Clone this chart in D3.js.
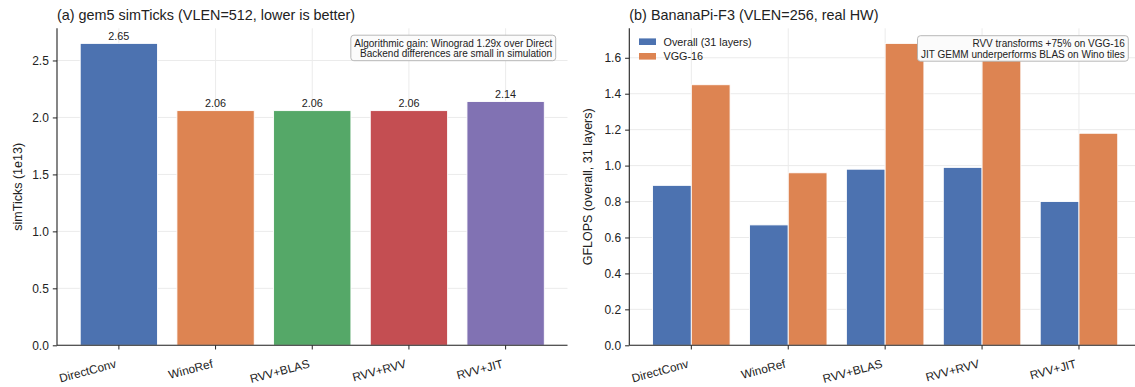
<!DOCTYPE html>
<html>
<head>
<meta charset="utf-8">
<script src="https://cdn.jsdelivr.net/npm/d3@7"></script>
<style>
  html, body { margin: 0; padding: 0; background: #fff; }
  svg { display: block; font-family: "Liberation Sans", Arial, Helvetica, sans-serif; }
</style>
</head>
<body>
<svg id="chart" width="1135" height="387"></svg>
<script>
// Implementations compared in both panels
const categories = ["DirectConv", "WinoRef", "RVV+BLAS", "RVV+RVV", "RVV+JIT"];

// (a) gem5 simulated ticks, in units of 1e13
const simTicks = [2.65, 2.06, 2.06, 2.06, 2.14];
const simTickLabels = ["2.65", "2.06", "2.06", "2.06", "2.14"];
const simColors = ["#4c72b0", "#dd8452", "#55a868", "#c44e52", "#8172b3"];
const leftYTicks = [0.0, 0.5, 1.0, 1.5, 2.0, 2.5];

// (b) BananaPi-F3 measured GFLOPS
const seriesNames = ["Overall (31 layers)", "VGG-16"];
const overallGflops = [0.89, 0.67, 0.98, 0.99, 0.80];
const vggGflops = [1.45, 0.96, 1.68, 1.68, 1.18];
const seriesColors = ["#4c72b0", "#dd8452"];
const rightYTicks = [0.0, 0.2, 0.4, 0.6, 0.8, 1.0, 1.2, 1.4, 1.6];

// Annotation notes
const leftNote = ["Algorithmic gain: Winograd 1.29x over Direct", "Backend differences are small in simulation"];
const rightNote = ["RVV transforms +75% on VGG-16", "JIT GEMM underperforms BLAS on Wino tiles"];

const svg = d3.select("#chart");
const gridColor = "#ebebeb";
const inkColor = "#222";
const fmt = d3.format(".1f");

const plotTop = 28.3, plotBottom = 345.3;

function panel(opts) {
  const g = svg.append("g");
  const x = d3.scaleBand().domain(categories).range([opts.x0, opts.x1])
    .paddingInner(0.2).paddingOuter(0.24);
  const y = d3.scaleLinear().domain([0, opts.ymax * 1.05]).range([plotBottom, plotTop]);

  // grid
  const grid = g.append("g");
  grid.selectAll("line.gy").data(opts.yTicks).join("line")
    .attr("x1", opts.x0).attr("x2", opts.x1)
    .attr("y1", d => y(d)).attr("y2", d => y(d))
    .attr("stroke", gridColor).attr("stroke-width", 1);
  grid.selectAll("line.gx").data(categories).join("line")
    .attr("x1", d => x(d) + x.bandwidth() / 2).attr("x2", d => x(d) + x.bandwidth() / 2)
    .attr("y1", plotTop).attr("y2", plotBottom)
    .attr("stroke", gridColor).attr("stroke-width", 1);

  return { g, x, y };
}

function axes(p, opts) {
  const { g, x, y } = p;
  const yAxis = g.append("g").attr("transform", `translate(${opts.x0},0)`)
    .call(d3.axisLeft(y).tickValues(opts.yTicks).tickFormat(fmt).tickSize(4.2).tickPadding(4));
  yAxis.select(".domain").attr("d", `M0,${plotTop}V${plotBottom}`).attr("stroke", inkColor).attr("stroke-width", 1.1);
  yAxis.selectAll(".tick line").attr("stroke", inkColor).attr("stroke-width", 1);
  yAxis.selectAll(".tick text").attr("font-size", 12).attr("fill", inkColor)
    .attr("font-family", "Liberation Sans, Arial, sans-serif");

  const xAxis = g.append("g").attr("transform", `translate(0,${plotBottom})`)
    .call(d3.axisBottom(x).tickSize(4.2).tickSizeOuter(0));
  xAxis.select(".domain").attr("d", `M${opts.x0},0H${opts.x1}`).attr("stroke", inkColor).attr("stroke-width", 1.1);
  xAxis.selectAll(".tick line").attr("stroke", inkColor).attr("stroke-width", 1);
  xAxis.selectAll(".tick text")
    .attr("font-size", 11.8).attr("fill", inkColor)
    .attr("font-family", "Liberation Sans, Arial, sans-serif")
    .attr("text-anchor", "end").attr("dy", null)
    .attr("x", -2).attr("y", 22)
    .attr("transform", "rotate(-15,-2,22)");

  // title
  g.append("text").attr("x", opts.x0).attr("y", 20)
    .attr("font-size", 14.4).attr("fill", inkColor).text(opts.title);

  // y label
  g.append("text")
    .attr("transform", `translate(${opts.ylabelX},${(plotTop + plotBottom) / 2}) rotate(-90)`)
    .attr("text-anchor", "middle").attr("font-size", 12.5).attr("fill", inkColor)
    .text(opts.ylabel);
}

function note(g, lines, right, top) {
  const box = g.append("g");
  const rect = box.append("rect");
  const texts = box.selectAll("text").data(lines).join("text")
    .attr("x", right - 3.5).attr("y", (d, i) => top + 11.6 + i * 10.2)
    .attr("text-anchor", "end").attr("font-size", 10).attr("fill", inkColor)
    .text(d => d);
  let w = 0;
  texts.each(function () { w = Math.max(w, this.getComputedTextLength()); });
  rect.attr("x", right - w - 7).attr("y", top).attr("width", w + 7).attr("height", 25.5)
    .attr("rx", 3).attr("ry", 3)
    .attr("fill", "#fbfbfb").attr("stroke", "#b0b0b0").attr("stroke-width", 0.9);
}

// ---- panel (a)
const leftOpts = {
  x0: 57, x1: 567.5, ymax: d3.max(simTicks), yTicks: leftYTicks,
  title: "(a) gem5 simTicks (VLEN=512, lower is better)",
  ylabel: "simTicks (1e13)", ylabelX: 21.5
};
const pa = panel(leftOpts);
pa.g.append("g").selectAll("rect").data(categories).join("rect")
  .attr("x", d => pa.x(d)).attr("width", pa.x.bandwidth())
  .attr("y", (d, i) => pa.y(simTicks[i]))
  .attr("height", (d, i) => pa.y(0) - pa.y(simTicks[i]))
  .attr("fill", (d, i) => simColors[i])
  .attr("stroke", "#fff").attr("stroke-width", 0.9);
pa.g.append("g").selectAll("text").data(categories).join("text")
  .attr("x", d => pa.x(d) + pa.x.bandwidth() / 2)
  .attr("y", (d, i) => pa.y(simTicks[i]) - 3.6)
  .attr("text-anchor", "middle").attr("font-size", 10.8).attr("fill", inkColor)
  .text((d, i) => simTickLabels[i]);
axes(pa, leftOpts);
note(pa.g, leftNote, 555.7, 35.2);

// ---- panel (b)
const rightOpts = {
  x0: 629.3, x1: 1141, ymax: d3.max(vggGflops.concat(overallGflops)), yTicks: rightYTicks,
  title: "(b) BananaPi-F3 (VLEN=256, real HW)",
  ylabel: "GFLOPS (overall, 31 layers)", ylabelX: 592
};
const pb = panel(rightOpts);
const sub = d3.scaleBand().domain(seriesNames).range([0, pb.x.bandwidth()]);
const seriesValues = [overallGflops, vggGflops];
seriesNames.forEach((s, si) => {
  pb.g.append("g").selectAll("rect").data(categories).join("rect")
    .attr("x", d => pb.x(d) + sub(s)).attr("width", sub.bandwidth())
    .attr("y", (d, i) => pb.y(seriesValues[si][i]))
    .attr("height", (d, i) => pb.y(0) - pb.y(seriesValues[si][i]))
    .attr("fill", seriesColors[si])
    .attr("stroke", "#fff").attr("stroke-width", 0.9);
});
axes(pb, rightOpts);

// legend
const legend = pb.g.append("g");
seriesNames.forEach((s, i) => {
  const ly = 41.7 + i * 14.6;
  legend.append("rect").attr("x", 639).attr("y", ly - 3.3).attr("width", 17).attr("height", 6.6)
    .attr("fill", seriesColors[i]);
  legend.append("text").attr("x", 663.5).attr("y", ly + 3.9)
    .attr("font-size", 10.8).attr("fill", inkColor).text(s);
});
note(pb.g, rightNote, 1128.3, 35.7);
</script>
</body>
</html>
